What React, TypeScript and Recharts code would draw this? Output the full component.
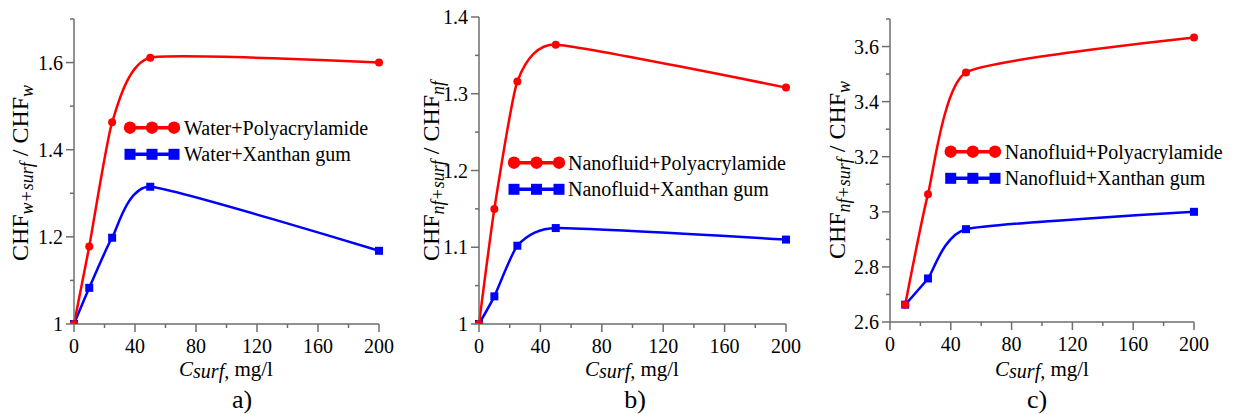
import React from 'react';
import { LineChart, Line, XAxis, YAxis, Legend } from 'recharts';

// ---------- data ----------
const concAB = [0, 10, 25, 50, 200];
const waterPam = [1, 1.178, 1.463, 1.611, 1.6];
const waterXg = [1, 1.083, 1.198, 1.315, 1.168];
const nfPam = [1, 1.15, 1.316, 1.364, 1.308];
const nfXg = [1, 1.036, 1.102, 1.125, 1.11];
const concC = [10, 25, 50, 200];
const nfPamW = [2.663, 3.064, 3.506, 3.633];
const nfXgW = [2.663, 2.758, 2.937, 3.0];

const xTicks = [0, 20, 40, 60, 80, 100, 120, 140, 160, 180, 200];
const xMajor = [0, 40, 80, 120, 160, 200];

const yTicksA = [1, 1.1, 1.2, 1.3, 1.4, 1.5, 1.6, 1.7];
const yMajorA = [1, 1.2, 1.4, 1.6];
const yTicksB = [1, 1.05, 1.1, 1.15, 1.2, 1.25, 1.3, 1.35, 1.4];
const yMajorB = [1, 1.1, 1.2, 1.3, 1.4];
const yTicksC = [2.6, 2.7, 2.8, 2.9, 3, 3.1, 3.2, 3.3, 3.4, 3.5, 3.6, 3.7];
const yMajorC = [2.6, 2.8, 3, 3.2, 3.4, 3.6];

const legendA = ['Water+Polyacrylamide', 'Water+Xanthan gum'];
const legendB = ['Nanofluid+Polyacrylamide', 'Nanofluid+Xanthan gum'];
const legendC = ['Nanofluid+Polyacrylamide', 'Nanofluid+Xanthan gum'];

const FONT = 'Liberation Serif, DejaVu Serif, Noto Serif, Times New Roman, serif';
const AXIS = '#6e6e6e';
const RED = '#ff0000';
const BLUE = '#0000ff';
const TS: any = { fontFamily: FONT };

// ---------- cardinal spline, tension 0.5 ----------
function cardPoint(t: any, x: number, y: number) {
  t._context.bezierCurveTo(
    t._x1 + t._k * (t._x2 - t._x0),
    t._y1 + t._k * (t._y2 - t._y0),
    t._x2 + t._k * (t._x1 - x),
    t._y2 + t._k * (t._y1 - y),
    t._x2,
    t._y2
  );
}
class Cardinal {
  _context: any; _k: number; _line: any; _point = 0;
  _x0 = NaN; _x1 = NaN; _x2 = NaN; _y0 = NaN; _y1 = NaN; _y2 = NaN;
  constructor(ctx: any, tension: number) { this._context = ctx; this._k = (1 - tension) / 6; }
  areaStart() { this._line = 0; }
  areaEnd() { this._line = NaN; }
  lineStart() {
    this._x0 = this._x1 = this._x2 = this._y0 = this._y1 = this._y2 = NaN;
    this._point = 0;
  }
  lineEnd() {
    switch (this._point) {
      case 2: this._context.lineTo(this._x2, this._y2); break;
      case 3: cardPoint(this, this._x1, this._y1); break;
    }
    if (this._line || (this._line !== 0 && this._point === 1)) this._context.closePath();
    this._line = 1 - this._line;
  }
  point(x: number, y: number) {
    x = +x; y = +y;
    switch (this._point) {
      case 0: this._point = 1; this._line ? this._context.lineTo(x, y) : this._context.moveTo(x, y); break;
      case 1: this._point = 2; this._x1 = x; this._y1 = y; break;
      case 2: this._point = 3; cardPoint(this, x, y); break;
      default: cardPoint(this, x, y); break;
    }
    this._x0 = this._x1; this._x1 = this._x2; this._x2 = x;
    this._y0 = this._y1; this._y1 = this._y2; this._y2 = y;
  }
}
const smooth: any = (ctx: any) => new Cardinal(ctx, 0.5);

// ---------- ticks ----------
const isIn = (v: number, arr: number[]) => arr.some((a) => Math.abs(a - v) < 1e-6);
const fmt = (v: number) => String(Number(v.toFixed(3)));

function XTick(props: any) {
  const { x, y, payload } = props;
  const v = payload.value;
  const major = isIn(v, xMajor);
  return (
    <g>
      <line x1={x} y1={y} x2={x} y2={y + (major ? 8 : 4)} stroke={AXIS} strokeWidth={1.5} />
      {major && (
        <text x={x} y={y + 29} textAnchor="middle" fontSize={20} fontFamily={FONT} style={TS} fill="#000">
          {fmt(v)}
        </text>
      )}
    </g>
  );
}

const makeYTick = (majors: number[]) => (props: any) => {
  const { x, y, payload } = props;
  const v = payload.value;
  const major = isIn(v, majors);
  return (
    <g>
      <line x1={x - (major ? 8 : 4)} y1={y} x2={x} y2={y} stroke={AXIS} strokeWidth={1.5} />
      {major && (
        <text x={x - 11} y={y + 7} textAnchor="end" fontSize={20} fontFamily={FONT} style={TS} fill="#000">
          {fmt(v)}
        </text>
      )}
    </g>
  );
};

// ---------- dots ----------
const circleDot = (p: any) => (
  <circle key={`c${p.index}`} cx={p.cx} cy={p.cy} r={4} fill={RED} stroke="none" />
);
const squareDot = (p: any) => (
  <rect key={`s${p.index}`} x={p.cx - 4} y={p.cy - 4} width={8} height={8} fill={BLUE} stroke="none" />
);

// ---------- legend ----------
function LegendBox({ labels, x0, x1, y1, y2, tx }: any) {
  const mid = (x0 + x1) / 2;
  return (
    <svg width={411} height={414} style={{ position: 'absolute', left: 0, top: 0, pointerEvents: 'none' }}>
      <line x1={x0} y1={y1} x2={x1} y2={y1} stroke={RED} strokeWidth={3.5} />
      {[x0, mid, x1].map((cx, i) => <circle key={i} cx={cx} cy={y1} r={6.2} fill={RED} />)}
      <text x={tx} y={y1 + 7} fontSize={20} fontFamily={FONT} style={TS} fill="#000">{labels[0]}</text>
      <line x1={x0} y1={y2} x2={x1} y2={y2} stroke={BLUE} strokeWidth={3.5} />
      {[x0, mid, x1].map((cx, i) => <rect key={i} x={cx - 5.5} y={y2 - 5.5} width={11} height={11} fill={BLUE} />)}
      <text x={tx} y={y2 + 7} fontSize={20} fontFamily={FONT} style={TS} fill="#000">{labels[1]}</text>
    </svg>
  );
}

// ---------- panel ----------
function Panel(props: any) {
  const { conc, pam, xg, yTicks, yMajor, domain, margin, yW, xH, legend, leg, yLab, xCenter, letterX, yTitle } = props;
  const data = conc.map((c: number, i: number) => ({ c, pam: pam[i], xg: xg[i] }));
  const YTick = makeYTick(yMajor);
  return (
    <LineChart width={411} height={414} data={data} margin={{ top: margin.top, right: margin.right, bottom: 0, left: 0 }} style={TS}>
      <XAxis
        dataKey="c"
        type="number"
        domain={[0, 200]}
        ticks={xTicks}
        interval={0}
        height={xH}
        tickSize={0}
        tickMargin={0}
        tickLine={false}
        axisLine={{ stroke: AXIS, strokeWidth: 1.5 }}
        tick={<XTick />}
        label={{
          content: () => (
            <g>
              <text x={xCenter} y={376} textAnchor="middle" fontSize={21} fontFamily={FONT} style={TS} fill="#000">
                <tspan fontStyle="italic">C</tspan>
                <tspan fontStyle="italic" fontSize={20} dy={2}>surf,</tspan>
                <tspan dy={-2}> mg/l</tspan>
              </text>
              <text x={letterX} y={408} textAnchor="middle" fontSize={26} fontFamily={FONT} style={TS} fill="#000">
                {props.letter}
              </text>
            </g>
          ),
        }}
      />
      <YAxis
        type="number"
        domain={domain}
        ticks={yTicks}
        interval={0}
        width={yW}
        tickSize={0}
        tickMargin={0}
        tickLine={false}
        allowDataOverflow
        axisLine={{ stroke: AXIS, strokeWidth: 1.5 }}
        tick={<YTick />}
        label={{
          content: () => (
            <text
              x={yLab.x}
              y={yLab.y}
              transform={`rotate(-90 ${yLab.x} ${yLab.y})`}
              textAnchor="middle"
              fontSize={24}
              fontFamily={FONT}
              style={TS}
              fill="#000"
            >
              CHF
              <tspan fontStyle="italic" fontSize={18} dy={5}>{yTitle[0]}</tspan>
              <tspan fontSize={24} dy={-5}> / CHF</tspan>
              <tspan fontStyle="italic" fontSize={18} dy={5}>{yTitle[1]}</tspan>
            </text>
          ),
        }}
      />
      <Legend
        layout="horizontal"
        verticalAlign="middle"
        align="center"
        wrapperStyle={{ position: 'absolute', left: 0, top: 0, width: 411, height: 414 }}
        content={() => <LegendBox labels={legend} {...leg} />}
      />
      <Line dataKey="xg" type={smooth} stroke={BLUE} strokeWidth={2.5} dot={squareDot} activeDot={false} isAnimationActive={false} />
      <Line dataKey="pam" type={smooth} stroke={RED} strokeWidth={2.5} dot={circleDot} activeDot={false} isAnimationActive={false} />
    </LineChart>
  );
}

export default function App() {
  return (
    <div style={{ position: 'absolute', left: 0, top: 0, width: 1233, height: 414, background: '#fff', fontFamily: FONT }}>
      <div style={{ position: 'absolute', left: 0, top: 0 }}>
        <Panel
          conc={concAB} pam={waterPam} xg={waterXg}
          yTicks={yTicksA} yMajor={yMajorA} domain={[1, 1.7]}
          margin={{ top: 19, right: 32 }} yW={74} xH={90}
          legend={legendA}
          leg={{ x0: 130, x1: 174, y1: 127.7, y2: 154.3, tx: 184 }}
          yLab={{ x: 28, y: 173 }} xCenter={226} letterX={242} letter="a)"
          yTitle={['w+surf', 'w']}
        />
      </div>
      <div style={{ position: 'absolute', left: 411, top: 0 }}>
        <Panel
          conc={concAB} pam={nfPam} xg={nfXg}
          yTicks={yTicksB} yMajor={yMajorB} domain={[1, 1.4]}
          margin={{ top: 17, right: 36 }} yW={68} xH={90}
          legend={legendB}
          leg={{ x0: 103, x1: 148, y1: 162.7, y2: 189.3, tx: 157 }}
          yLab={{ x: 28, y: 171 }} xCenter={221} letterX={224} letter="b)"
          yTitle={['nf+surf', 'nf']}
        />
      </div>
      <div style={{ position: 'absolute', left: 822, top: 0 }}>
        <Panel
          conc={concC} pam={nfPamW} xg={nfXgW}
          yTicks={yTicksC} yMajor={yMajorC} domain={[2.6, 3.7]}
          margin={{ top: 19, right: 39 }} yW={68} xH={92}
          legend={legendC}
          leg={{ x0: 128.7, x1: 173, y1: 151.7, y2: 178.3, tx: 182.7 }}
          yLab={{ x: 23, y: 170 }} xCenter={220} letterX={215} letter="c)"
          yTitle={['nf+surf', 'w']}
        />
      </div>
    </div>
  );
}
